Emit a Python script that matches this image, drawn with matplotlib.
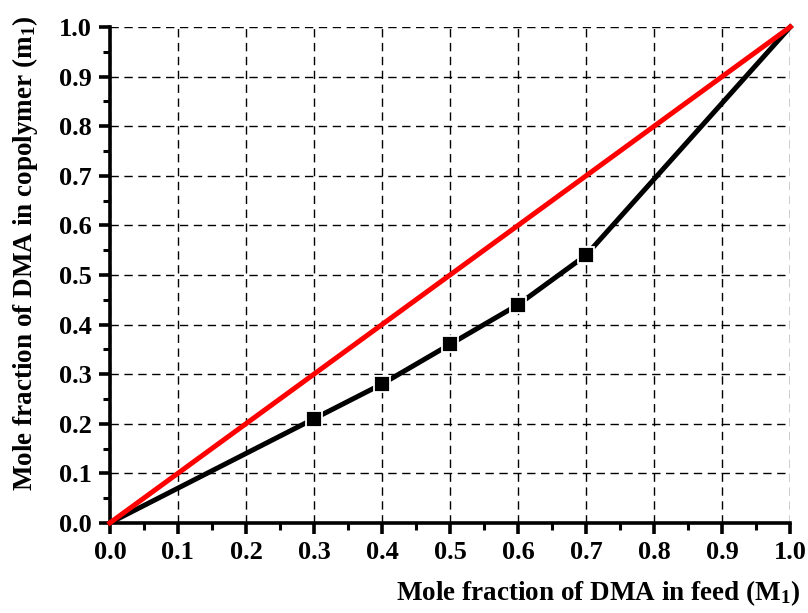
import matplotlib
matplotlib.use("Agg")
import matplotlib.pyplot as plt
import numpy as np

feed = [0.0, 0.3, 0.4, 0.5, 0.6, 0.7, 1.0]
copolymer = [0.0, 0.21, 0.28, 0.36, 0.44, 0.54, 1.0]
marker_idx = [1, 2, 3, 4, 5]
ideal_x = [0.0, 1.0]
ideal_y = [0.0, 1.0]
ticks = [0.0, 0.1, 0.2, 0.3, 0.4, 0.5, 0.6, 0.7, 0.8, 0.9, 1.0]
tick_labels = ["0.0", "0.1", "0.2", "0.3", "0.4", "0.5", "0.6", "0.7", "0.8", "0.9", "1.0"]

plt.rcParams['font.family'] = ['Liberation Serif', 'DejaVu Serif']
plt.rcParams['font.weight'] = 'bold'
plt.rcParams['mathtext.fontset'] = 'custom'
plt.rcParams['mathtext.rm'] = 'Liberation Serif:bold'
plt.rcParams['mathtext.bf'] = 'Liberation Serif:bold'
plt.rcParams['mathtext.it'] = 'Liberation Serif:bold'

fig = plt.figure(figsize=(8.08, 6.13), dpi=100)
ax = fig.add_axes([0.136, 0.147, 0.842, 0.809])

ax.plot(feed, copolymer, color='black', lw=3.6, marker='s', markevery=marker_idx,
        markersize=12, markerfacecolor='black', markeredgecolor='white',
        markeredgewidth=1.3, zorder=3, clip_on=False)
ax.plot(ideal_x, ideal_y, color='#ff0000', lw=3.6, zorder=4, clip_on=False)

ax.set_xlim(0, 1)
ax.set_ylim(0, 1)
ax.set_xticks(ticks)
ax.set_xticklabels(tick_labels)
ax.set_yticks(ticks)
ax.set_yticklabels(tick_labels)
ax.set_xticks(np.arange(0.05, 1.0, 0.1), minor=True)
ax.set_yticks(np.arange(0.05, 1.0, 0.1), minor=True)

for s in ['top', 'right']:
    ax.spines[s].set_visible(False)
for s in ['left', 'bottom']:
    ax.spines[s].set_linewidth(2.6)

ax.tick_params(which='major', direction='out', length=8, width=2.6, labelsize=19, pad=5)
ax.tick_params(which='minor', direction='out', length=5, width=2.2)
for lab in ax.get_xticklabels() + ax.get_yticklabels():
    lab.set_fontweight('bold')

ax.grid(True, which='major', color='black', linestyle=(0, (6, 4)), linewidth=1.0)
ax.set_axisbelow(True)

fig.text(0.99, 0.033, r'Mole fraction of DMA in feed (M$_{1}$)', ha='right', va='center',
         fontsize=19.5, fontweight='bold')
fig.text(0.031, 0.586, r'Mole fraction of DMA in copolymer (m$_{1}$)', ha='center', va='center',
         rotation=90, fontsize=19.5, fontweight='bold')

fig.savefig('out.png', dpi=100)
